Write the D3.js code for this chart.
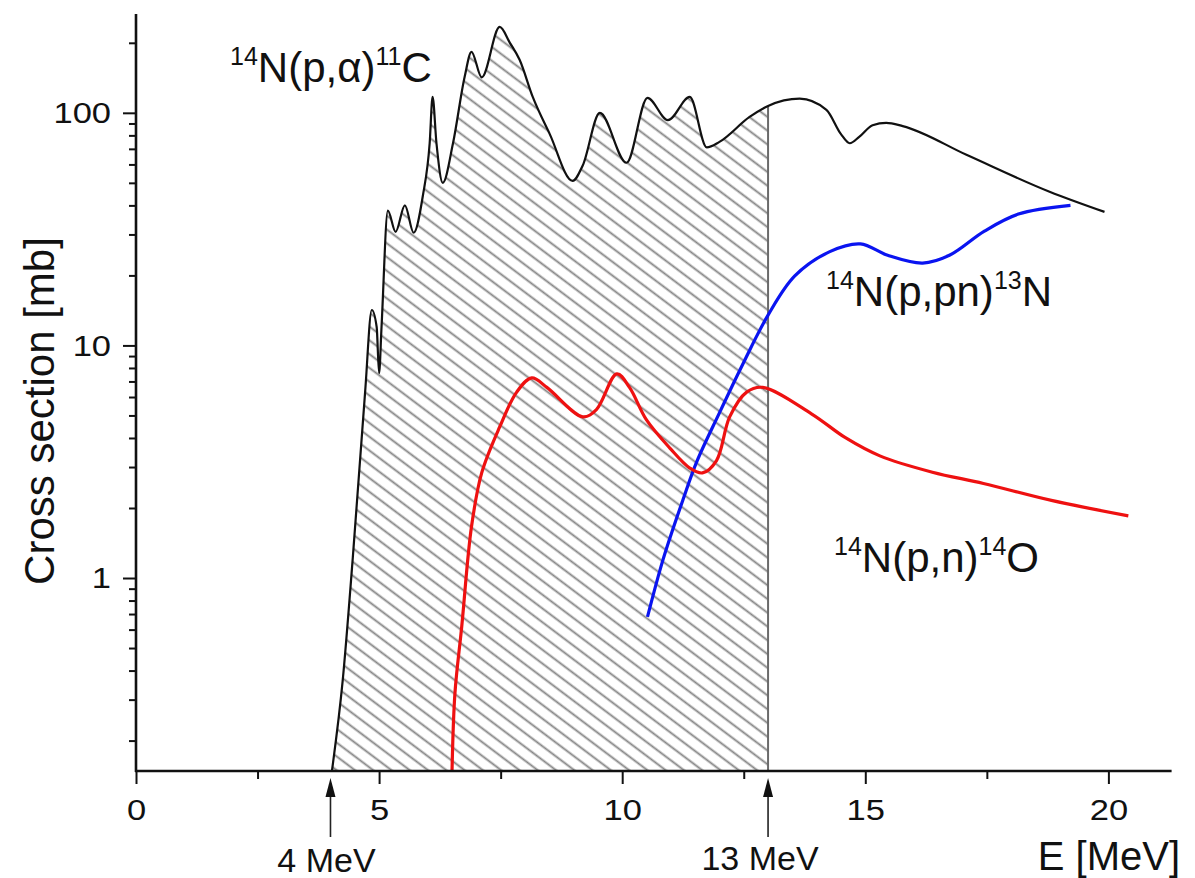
<!DOCTYPE html>
<html>
<head>
<meta charset="utf-8">
<script src="https://cdn.jsdelivr.net/npm/d3@7"></script>
<style>
  body { margin: 0; background: #fff; }
  text { font-family: "Liberation Sans", Arial, sans-serif; fill: #111; }
</style>
</head>
<body>
<svg id="chart" width="1195" height="878"></svg>
<script>
// 14N(p,a)11C  [E MeV, sigma mb]
var alphaE = [4.03, 4.25, 4.46, 4.71, 4.85, 4.95, 5.0, 5.05, 5.18, 5.34, 5.53, 5.71, 5.9, 6.04, 6.1, 6.18, 6.31, 6.52, 6.76, 6.9, 7.11, 7.48, 7.69, 7.89, 8.16, 8.51, 8.98, 9.19, 9.54, 10.09, 10.52, 10.94, 11.39, 11.74, 12.0, 12.62, 13.0, 13.65, 14.2, 14.5, 14.68, 14.88, 15.15, 15.43, 15.77, 17.08, 18.79, 19.92];
var alphaS = [0.148, 0.36, 1.23, 6.2, 14.2, 12, 7.6, 12, 38, 30.8, 40, 30.5, 44, 74, 117, 74, 50, 74, 143, 183, 142, 234, 200, 169, 117, 81, 51, 59.5, 100, 61, 116, 93, 117, 71, 75, 96, 107, 115, 103, 81, 74, 79, 88.5, 90.6, 87.7, 66, 45.8, 37.5];

// 14N(p,pn)13N
var pnE = [10.52, 10.84, 11.25, 11.53, 12.0, 12.48, 13.0, 13.55, 14.27, 14.9, 15.46, 16.18, 16.73, 17.45, 18.15, 19.22];
var pnS = [0.68, 1.2, 2.17, 3.15, 5.13, 8.3, 13.5, 19.9, 25.3, 27.3, 24.4, 22.6, 24.4, 31, 36.7, 40];

// 14N(p,n)14O
var nE = [6.5, 6.56, 6.7, 6.9, 7.11, 7.48, 7.83, 8.14, 8.45, 9.19, 9.47, 9.89, 10.15, 10.5, 10.98, 11.39, 11.65, 11.94, 12.21, 12.56, 12.89, 13.9, 14.6, 15.3, 16.38, 17.43, 18.85, 20.41];
var nS = [0.148, 0.32, 0.62, 1.66, 2.83, 4.46, 6.3, 7.25, 6.6, 4.93, 5.3, 7.55, 6.6, 4.78, 3.62, 2.97, 2.83, 3.2, 4.93, 6.3, 6.6, 5.07, 4.0, 3.35, 2.85, 2.55, 2.15, 1.85];

var xMajor = [0, 5, 10, 15, 20];
var xMinor = [2.5, 7.5, 12.5, 17.5];
var yMajor = [1, 10, 100];
var yMinor = [0.2, 0.3, 0.4, 0.5, 0.6, 0.7, 0.8, 0.9, 2, 3, 4, 5, 6, 7, 8, 9, 20, 30, 40, 50, 60, 70, 80, 90, 200];

var hatchFrom = 4.03, hatchTo = 13;
var markers = [4, 13];

var svg = d3.select("#chart");

var x = d3.scaleLinear().domain([0, 21.3]).range([136, 1171.6]);
var y = d3.scaleLog().domain([0.148, 266]).range([771, 14]);

var pts = (es, ss) => es.map((e, i) => [e, ss[i]]);

// hatch pattern
var defs = svg.append("defs");
defs.append("pattern")
	.attr("id", "hatch")
	.attr("patternUnits", "userSpaceOnUse")
	.attr("width", 11)
	.attr("height", 11)
	.attr("patternTransform", "rotate(37)")
	.append("line")
	.attr("x1", 0).attr("x2", 11)
	.attr("y1", 5.5).attr("y2", 5.5)
	.attr("stroke", "#858585")
	.attr("stroke-width", 1.9);

var alpha = pts(alphaE, alphaS);
var hatchPts = alpha.filter(d => d[0] >= hatchFrom && d[0] <= hatchTo);

svg.append("path")
	.attr("d", d3.area().curve(d3.curveMonotoneX)
		.x(d => x(d[0]))
		.y0(y(0.148))
		.y1(d => y(d[1]))(hatchPts))
	.attr("fill", "url(#hatch)");

// vertical line at 13 MeV
svg.append("line")
	.attr("x1", x(hatchTo)).attr("x2", x(hatchTo))
	.attr("y1", y(0.148)).attr("y2", y(107))
	.attr("stroke", "#6a6a6a")
	.attr("stroke-width", 2);

var line = d3.line().curve(d3.curveMonotoneX).x(d => x(d[0])).y(d => y(d[1]));
var smooth = d3.line().curve(d3.curveCatmullRom.alpha(0.5)).x(d => x(d[0])).y(d => y(d[1]));

svg.append("path")
	.attr("d", line(alpha))
	.attr("fill", "none")
	.attr("stroke", "#111")
	.attr("stroke-width", 2.2);

svg.append("path")
	.attr("d", smooth(pts(pnE, pnS)))
	.attr("fill", "none")
	.attr("stroke", "#0a14f0")
	.attr("stroke-width", 3.2);

svg.append("path")
	.attr("d", smooth(pts(nE, nS)))
	.attr("fill", "none")
	.attr("stroke", "#ee1111")
	.attr("stroke-width", 3.2);

// axes
var stretch = 1.15;

function styleAxis(g) {
	g.select(".domain").remove();
	g.selectAll(".tick line").attr("stroke", "#111").attr("stroke-width", 2);
	g.selectAll(".tick text").style("font-size", "30px").attr("fill", "#111");
}

svg.append("g")
	.attr("transform", `translate(0,${y(0.148)})`)
	.call(d3.axisBottom(x).tickValues(xMinor).tickSize(8).tickFormat(""))
	.call(styleAxis);

svg.append("g")
	.attr("transform", `translate(0,${y(0.148)})`)
	.call(d3.axisBottom(x).tickValues(xMajor).tickSize(13).tickPadding(15).tickFormat(d3.format("d")))
	.call(styleAxis)
	.call(g => g.selectAll(".tick text").attr("transform", `scale(${stretch},1)`));

svg.append("g")
	.attr("transform", `translate(${x(0)},0)`)
	.call(d3.axisLeft(y).tickValues(yMinor).tickSize(7).tickFormat(""))
	.call(styleAxis);

svg.append("g")
	.attr("transform", `translate(${x(0)},0)`)
	.call(d3.axisLeft(y).tickValues(yMajor).tickSize(13).tickPadding(12).tickFormat(d3.format("d")))
	.call(styleAxis)
	.call(g => g.selectAll(".tick text")
		.attr("x", -25 / stretch)
		.attr("transform", `scale(${stretch},1)`));

// axis lines
svg.append("line")
	.attr("x1", x(0) - 1).attr("x2", x.range()[1])
	.attr("y1", y(0.148)).attr("y2", y(0.148))
	.attr("stroke", "#111").attr("stroke-width", 2.6);
svg.append("line")
	.attr("x1", x(0)).attr("x2", x(0))
	.attr("y1", y.range()[1]).attr("y2", y(0.148) + 1)
	.attr("stroke", "#111").attr("stroke-width", 2.6);

// arrows under the axis
markers.forEach(m => {
	var mx = x(m);
	svg.append("line")
		.attr("x1", mx).attr("x2", mx)
		.attr("y1", 837).attr("y2", 792)
		.attr("stroke", "#222").attr("stroke-width", 1.6);
	svg.append("path")
		.attr("d", `M${mx},778 L${mx - 5},797 L${mx + 5},797 Z`)
		.attr("fill", "#111");
});

svg.append("text").attr("x", x(4) - 4).attr("y", 872)
	.attr("text-anchor", "middle").style("font-size", "34px").text("4 MeV");
svg.append("text").attr("x", x(13) - 8).attr("y", 870)
	.attr("text-anchor", "middle").style("font-size", "34px").text("13 MeV");
svg.append("text").attr("x", 1180).attr("y", 870)
	.attr("text-anchor", "end").style("font-size", "40px").text("E [MeV]");

svg.append("text")
	.attr("transform", "translate(54,411) rotate(-90)")
	.attr("text-anchor", "middle").style("font-size", "42px").text("Cross section [mb]");

// reaction labels
function reaction(px, py, a, b, c, d) {
	var t = svg.append("text").attr("x", px).attr("y", py).style("font-size", "42px");
	t.append("tspan").attr("dy", -17).style("font-size", "25px").text(a);
	t.append("tspan").attr("dy", 17).text(b);
	t.append("tspan").attr("dy", -17).style("font-size", "25px").text(c);
	t.append("tspan").attr("dy", 17).text(d);
}

reaction(230, 82, "14", "N(p,\u03b1)", "11", "C");
reaction(826, 306, "14", "N(p,pn)", "13", "N");
reaction(834, 572, "14", "N(p,n)", "14", "O");
</script>
</body>
</html>
